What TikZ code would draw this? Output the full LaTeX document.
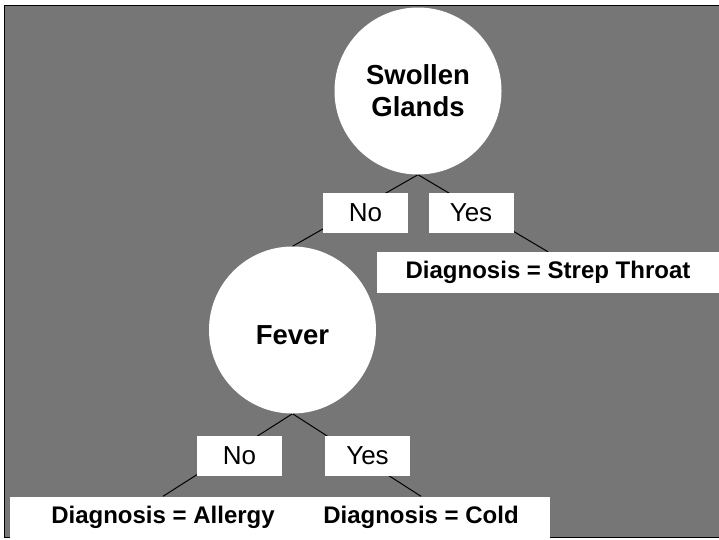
\documentclass[tikz,border=0pt]{standalone}
\usepackage{fontspec}
\setmainfont{Liberation Sans}
\pgfdeclarelayer{back}
\pgfdeclarelayer{mid}
\pgfsetlayers{back,mid,main}
\definecolor{panelgray}{RGB}{118,118,118}
\begin{document}
\begin{tikzpicture}[x=1pt,y=-1pt,
  decision/.style={circle,fill=white,inner sep=0pt,minimum size=167pt,
    font=\fontsize{27.5}{32}\selectfont\bfseries,align=center},
  answer/.style={rectangle,fill=white,inner sep=0pt,minimum width=85pt,
    minimum height=40pt,font=\fontsize{26}{30}\selectfont},
  leaf/.style={rectangle,fill=white,inner sep=0pt,minimum height=41pt,
    font=\fontsize{24}{28}\selectfont\bfseries},
  branch/.style={draw=black,line width=1pt}]
\useasboundingbox (0,0) rectangle (719,539);
\begin{pgfonlayer}{back}
  \fill[white] (0,0) rectangle (719,539);
  \filldraw[fill=panelgray,draw=black,line width=1pt] (4.5,5.5) rectangle (722,537.5);
\end{pgfonlayer}
\node[decision] (sg) at (418,91) {Swollen\\Glands};
\node[decision] (fever) at (292.5,330) {\raisebox{-14pt}[0pt][0pt]{Fever}};
\node[answer] (no1) at (365.5,213) {No};
\node[answer] (yes1) at (471,213) {Yes};
\node[leaf,minimum width=342pt] (strep) at (548,272.5) {Diagnosis = Strep Throat};
\node[answer] (no2) at (239.5,456) {No};
\node[answer] (yes2) at (367.5,456) {Yes};
\node[leaf,minimum width=306pt] (allergy) at (163,517) {Diagnosis = Allergy};
\node[leaf,minimum width=258pt] (cold) at (421,517) {Diagnosis = Cold};
\begin{pgfonlayer}{mid}
  \draw[branch] (sg.south) -- (fever.north);
  \draw[branch] (sg.south) -- (strep.north);
  \draw[branch] (fever.south) -- (allergy.north);
  \draw[branch] (fever.south) -- (cold.north);
\end{pgfonlayer}
\end{tikzpicture}
\end{document}
